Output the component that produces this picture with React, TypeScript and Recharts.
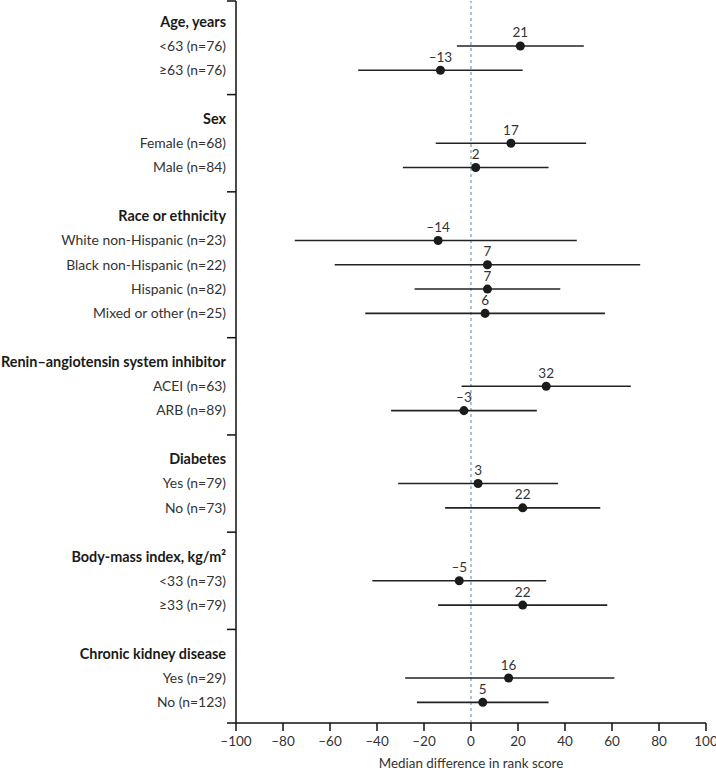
import React from 'react'
import {
  ScatterChart,
  Scatter,
  XAxis,
  YAxis,
  ZAxis,
  ErrorBar,
  LabelList,
  ReferenceLine,
  Label,
} from 'recharts'

const groups = [
  'Age, years',
  'Sex',
  'Race or ethnicity',
  'Renin–angiotensin system inhibitor',
  'Diabetes',
  'Body-mass index, kg/m²',
  'Chronic kidney disease',
]

const rowLabels = [
  '<63 (n=76)',
  '≥63 (n=76)',
  'Female (n=68)',
  'Male (n=84)',
  'White non-Hispanic (n=23)',
  'Black non-Hispanic (n=22)',
  'Hispanic (n=82)',
  'Mixed or other (n=25)',
  'ACEI (n=63)',
  'ARB (n=89)',
  'Yes (n=79)',
  'No (n=73)',
  '<33 (n=73)',
  '≥33 (n=79)',
  'Yes (n=29)',
  'No (n=123)',
]
const rowGroup = [0, 0, 1, 1, 2, 2, 2, 2, 3, 3, 4, 4, 5, 5, 6, 6]
const estimate = [21, -13, 17, 2, -14, 7, 7, 6, 32, -3, 3, 22, -5, 22, 16, 5]
const lower = [-6, -48, -15, -29, -75, -58, -24, -45, -4, -34, -31, -11, -42, -14, -28, -23]
const upper = [48, 22, 49, 33, 45, 72, 38, 57, 68, 28, 37, 55, 32, 58, 61, 33]

const xTicks = [-100, -80, -60, -40, -20, 0, 20, 40, 60, 80, 100]

// lay out rows: header, subgroup rows, then one blank slot per group
const labelAt: Record<number, { text: string; bold: boolean }> = {}
const boundaries: number[] = []
const data: { x: number; y: number; est: number; err: [number, number] }[] = []
let pos = 0
groups.forEach((g, gi) => {
  if (gi > 0) {
    boundaries.push(pos)
    pos += 1
  }
  labelAt[pos] = { text: g, bold: true }
  pos += 1
  rowLabels.forEach((lbl, i) => {
    if (rowGroup[i] !== gi) return
    labelAt[pos] = { text: lbl, bold: false }
    data.push({ x: estimate[i], y: pos, est: estimate[i], err: [estimate[i] - lower[i], upper[i] - estimate[i]] })
    pos += 1
  })
})
const yMin = -0.85
const yMax = pos - 1 + 0.85
boundaries.push(yMin, yMax)
const yTicks = [...Object.keys(labelAt).map(Number), ...boundaries]

const fmt = (v: any) => (Number(v) < 0 ? `–${Math.abs(Number(v))}` : `${v}`)
const font = 'Lato, "Open Sans", sans-serif'

const RowTick = (props: any) => {
  const { x, y, payload } = props
  const v = payload.value
  if (boundaries.includes(v)) {
    return <line x1={x - 9} x2={x} y1={y} y2={y} stroke="#111" strokeWidth={1.5} />
  }
  const l = labelAt[v]
  if (!l) return null
  return (
    <text
      x={x - 10}
      y={y}
      dy="0.35em"
      textAnchor="end"
      fontSize={l.bold ? 14.4 : 13.9}
      fontFamily={font}
      fontWeight={l.bold ? 700 : 400}
      fill={l.bold ? '#1a1a1a' : '#333'}
    >
      {l.text}
    </text>
  )
}

export default function App() {
  return (
    <div style={{ position: 'absolute', left: 0, top: 0, fontFamily: font }}>
      <ScatterChart width={716} height={770} margin={{ top: 1, right: 10, bottom: 0, left: 0 }}>
        <XAxis
          type="number"
          dataKey="x"
          domain={[-100, 100]}
          ticks={xTicks}
          interval={0}
          tickFormatter={fmt}
          tickSize={8}
          tickMargin={5}
          height={47}
          stroke="#111"
          axisLine={{ stroke: '#111', strokeWidth: 1.5 }}
          tickLine={{ stroke: '#111', strokeWidth: 1.5 }}
          tick={{ fill: '#333', fontSize: 13.5, fontFamily: font }}
        >
          <Label
            value="Median difference in rank score"
            position="insideBottom"
            offset={2}
            fill="#333"
            fontSize={13.4}
            fontFamily={font}
          />
        </XAxis>
        <YAxis
          type="number"
          dataKey="y"
          domain={[yMin, yMax]}
          reversed
          allowDataOverflow
          ticks={yTicks}
          interval={0}
          width={236}
          tickSize={0}
          tickMargin={0}
          tickLine={false}
          axisLine={{ stroke: '#111', strokeWidth: 1.5 }}
          tick={<RowTick />}
        />
        <ZAxis range={[95, 95]} />
        <ReferenceLine x={0} stroke="#8fa0ae" strokeWidth={1.3} strokeDasharray="3 3" />
        <Scatter data={data} fill="#1b1b1b" isAnimationActive={false}>
          <ErrorBar dataKey="err" direction="x" width={0} stroke="#222" strokeWidth={1.6} />
          <LabelList
            dataKey="est"
            position="top"
            offset={4}
            formatter={fmt}
            fill="#333"
            fontSize={13.5}
            fontFamily={font}
          />
        </Scatter>
      </ScatterChart>
    </div>
  )
}
